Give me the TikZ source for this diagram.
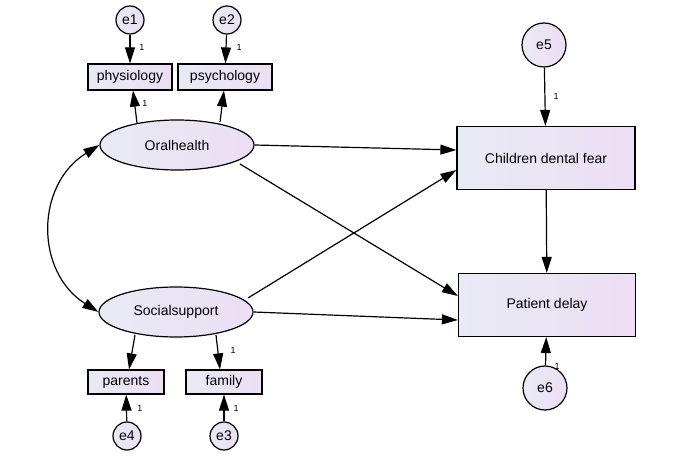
\documentclass[tikz,border=0pt]{standalone}
\usepackage{fontspec}
\setmainfont{Liberation Sans}
\usetikzlibrary{arrows.meta,shapes.geometric}
\definecolor{lA}{RGB}{232,234,244}
\definecolor{lB}{RGB}{236,222,244}
\begin{document}
\begin{tikzpicture}[x=1pt,y=-1pt,
  fillg/.style={left color=lA,right color=lB,draw=black,line width=1.2pt},
  box/.style={fillg,rectangle,inner sep=0pt},
  lat/.style={fillg,ellipse,inner sep=0pt},
  err/.style={fillg,circle,inner sep=0pt},
  txt/.style={font=\fontsize{14}{16}\selectfont},
  arr/.style={-{Triangle[length=16pt,width=10pt]},line width=1.2pt},
  one/.style={font=\fontsize{9}{10}\selectfont}]
\useasboundingbox (0,0) rectangle (685,470);
\node[err,minimum size=28pt,txt] (e1) at (130,20) {e1};
\node[err,minimum size=28pt,txt] (e2) at (227,20) {e2};
\node[box,minimum width=84pt,minimum height=26pt,txt] (phy) at (130,77) {physiology};
\node[box,minimum width=94pt,minimum height=26pt,txt] (psy) at (225,77) {psychology};
\node[lat,minimum width=154pt,minimum height=50pt,txt] (oh) at (177,145) {Oralhealth};
\node[lat,minimum width=154pt,minimum height=50pt,txt] (ss) at (176,312) {Socialsupport};
\node[box,minimum width=76pt,minimum height=24pt,txt] (par) at (126,382) {parents};
\node[box,minimum width=76pt,minimum height=24pt,txt] (fam) at (224,382) {family};
\node[err,minimum size=28pt,txt] (e4) at (127,436) {e4};
\node[err,minimum size=28pt,txt] (e3) at (224,436) {e3};
\node[err,minimum size=44pt,txt] (e5) at (544,45) {e5};
\node[box,minimum width=178pt,minimum height=63pt,txt] (cdf) at (546,158) {Children dental fear};
\node[box,minimum width=177pt,minimum height=63pt,txt] (pd) at (547,305) {Patient delay};
\node[err,minimum size=44pt,txt] (e6) at (545,388) {e6};
\coordinate (oa) at (137,123);
\coordinate (ob) at (220,122);
\coordinate (oc) at (240,164);
\coordinate (sa) at (135,335);
\coordinate (sb) at (216,335);
\coordinate (sc) at (248,298);
\draw[arr] (e1) -- (phy);
\draw[arr] (e2) -- (psy);
\draw[arr] (oa) -- (phy.south-|133,0);
\draw[arr] (ob) -- (psy.south-|224,0);
\draw[arr] (sa) -- (par.north-|129,0);
\draw[arr] (sb) -- (fam.north-|220,0);
\draw[arr] (e4) -- (par);
\draw[arr] (e3) -- (fam);
\draw[arr] (e5) -- (cdf);
\draw[arr] (e6) -- (pd);
\draw[arr] (cdf) -- (pd);
\draw[arr] (oh.east) -- (cdf.west|-0,150);
\draw[arr] (oc) -- (pd.west|-0,296);
\draw[arr] (sc) -- (cdf.west|-0,170);
\draw[arr] (ss.east) -- (pd.west|-0,320);
\draw[{Triangle[length=16pt,width=10pt]}-{Triangle[length=16pt,width=10pt]},line width=1.2pt] (oh.west) .. controls (35,185) and (35,272) .. (ss.west);
\node[one] (l1) at (142,47) {1};
\node[one] (l2) at (239,47) {1};
\node[one] (l3) at (145,103) {1};
\node[one] (l4) at (556,96) {1};
\node[one] (l5) at (233,350) {1};
\node[one] (l6) at (140,408) {1};
\node[one] (l7) at (236,408) {1};
\node[one] (l8) at (557,366) {1};
\end{tikzpicture}
\end{document}
